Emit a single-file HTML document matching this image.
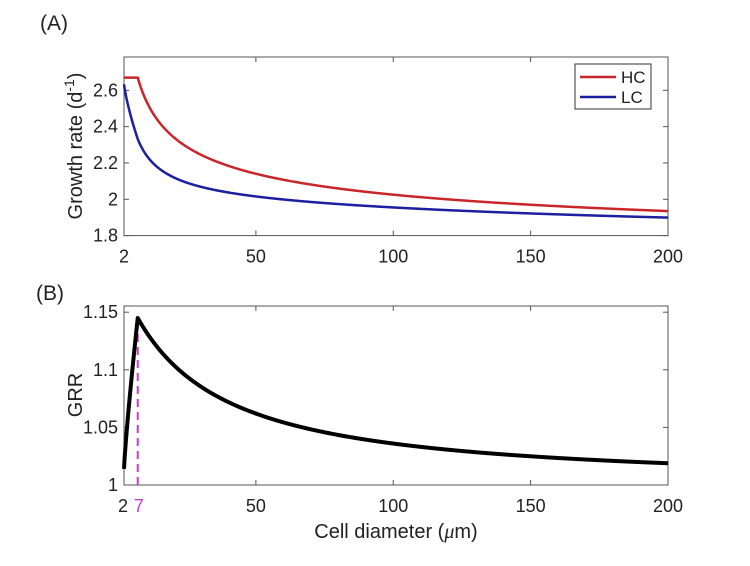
<!DOCTYPE html>
<html><head><meta charset="utf-8"><style>
html,body{margin:0;padding:0;background:#fff;}
svg text{font-family:"Liberation Sans",sans-serif;fill:#222;}
</style></head><body>
<svg id="s" width="750" height="561" xmlns="http://www.w3.org/2000/svg">
<text x="40" y="30" font-size="21">(A)</text>
<text x="36" y="300" font-size="21">(B)</text>
<g id="g"></g>
</svg>
<script>
var g=document.getElementById('g'),h='';
var L=124,R=668;
function X(d){return L+(d-2)*(R-L)/198;}
var T1=57,B1=235.6;function Y1(v){return B1-(v-1.8)*(B1-T1)/(2.7835-1.8);}
var T2=306,B2=485;function Y2(v){return B2-(v-1)*1152;}
function HC(d){return Math.min(2.67,1.606+2.102*Math.pow(d,-0.35));}
function GRR(d){
 if(d<=7)return 1.014+0.131*Math.pow((d-2)/5,0.85);
 return 1+0.145*Math.pow(1+(d-7)/39,-1.143);}
var ph='',pl='',pg='';
for(var d=2;d<=200.001;d+=0.25){var hc=HC(d),gr=GRR(d),lc=hc/gr;
ph+=(ph?'L':'M')+X(d).toFixed(2)+','+Y1(hc).toFixed(2);
pl+=(pl?'L':'M')+X(d).toFixed(2)+','+Y1(lc).toFixed(2);
pg+=(pg?'L':'M')+X(d).toFixed(2)+','+Y2(gr).toFixed(2);}
function axes(T,B,yt,Yf,lab){
 var s='<rect x="'+L+'" y="'+T+'" width="'+(R-L)+'" height="'+(B-T)+'" fill="none" stroke="#555" stroke-width="1"/>';
 [50,100,150].forEach(function(v){var x=X(v);s+='<line x1="'+x+'" y1="'+B+'" x2="'+x+'" y2="'+(B-5)+'" stroke="#555"/><line x1="'+x+'" y1="'+T+'" x2="'+x+'" y2="'+(T+5)+'" stroke="#555"/>';});
 [2,50,100,150,200].forEach(function(v){if(lab&&v==2)return;s+='<text x="'+X(v)+'" y="'+(B+27)+'" font-size="18" text-anchor="middle">'+v+'</text>';});
 yt.forEach(function(t){var y=Yf(t[0]);s+='<line x1="'+L+'" y1="'+y+'" x2="'+(L+5)+'" y2="'+y+'" stroke="#555"/><line x1="'+R+'" y1="'+y+'" x2="'+(R-5)+'" y2="'+y+'" stroke="#555"/><text x="'+(L-6)+'" y="'+(y+6)+'" font-size="18" text-anchor="end">'+t[1]+'</text>';});
 return s;}
h+=axes(T1,B1,[[1.8,'1.8'],[2,'2'],[2.2,'2.2'],[2.4,'2.4'],[2.6,'2.6']],Y1,false);
h+='<path d="'+ph+'" fill="none" stroke="#c8262b" stroke-width="2.5"/>';
h+='<path d="'+pl+'" fill="none" stroke="#1c1fa0" stroke-width="2.5"/>';
h+='<rect x="575" y="64" width="76" height="45" fill="#fff" stroke="#333" stroke-width="1"/>';
h+='<line x1="580" y1="77" x2="616" y2="77" stroke="#c8262b" stroke-width="2.5"/><text x="621" y="83" font-size="17">HC</text>';
h+='<line x1="580" y1="97" x2="616" y2="97" stroke="#1c1fa0" stroke-width="2.5"/><text x="621" y="103" font-size="17">LC</text>';
h+='<text transform="translate(82,146) rotate(-90)" font-size="20" text-anchor="middle">Growth rate (d<tspan dy="-8" font-size="14">-1</tspan><tspan dy="8">)</tspan></text>';
h+=axes(T2,B2,[[1,'1'],[1.05,'1.05'],[1.1,'1.1'],[1.15,'1.15']],Y2,true);
h+='<line x1="'+X(7)+'" y1="'+B2+'" x2="'+X(7)+'" y2="'+Y2(1.145)+'" stroke="#c43fc4" stroke-width="2" stroke-dasharray="8,5"/>';
h+='<path d="'+pg+'" fill="none" stroke="#000" stroke-width="4" stroke-linejoin="round"/>';
h+='<text x="'+(X(2)-1)+'" y="'+(B2+27)+'" font-size="18" text-anchor="middle">2</text>';
h+='<text x="'+(X(7)+1)+'" y="'+(B2+27)+'" font-size="18" text-anchor="middle" style="fill:#c43fc4">7</text>';
h+='<text transform="translate(82,395) rotate(-90)" font-size="20" text-anchor="middle">GRR</text>';
h+='<text x="396" y="538" font-size="20" text-anchor="middle">Cell diameter (<tspan font-family="Liberation Serif" font-style="italic">μ</tspan>m)</text>';
g.innerHTML=h;
</script>
</body></html>
